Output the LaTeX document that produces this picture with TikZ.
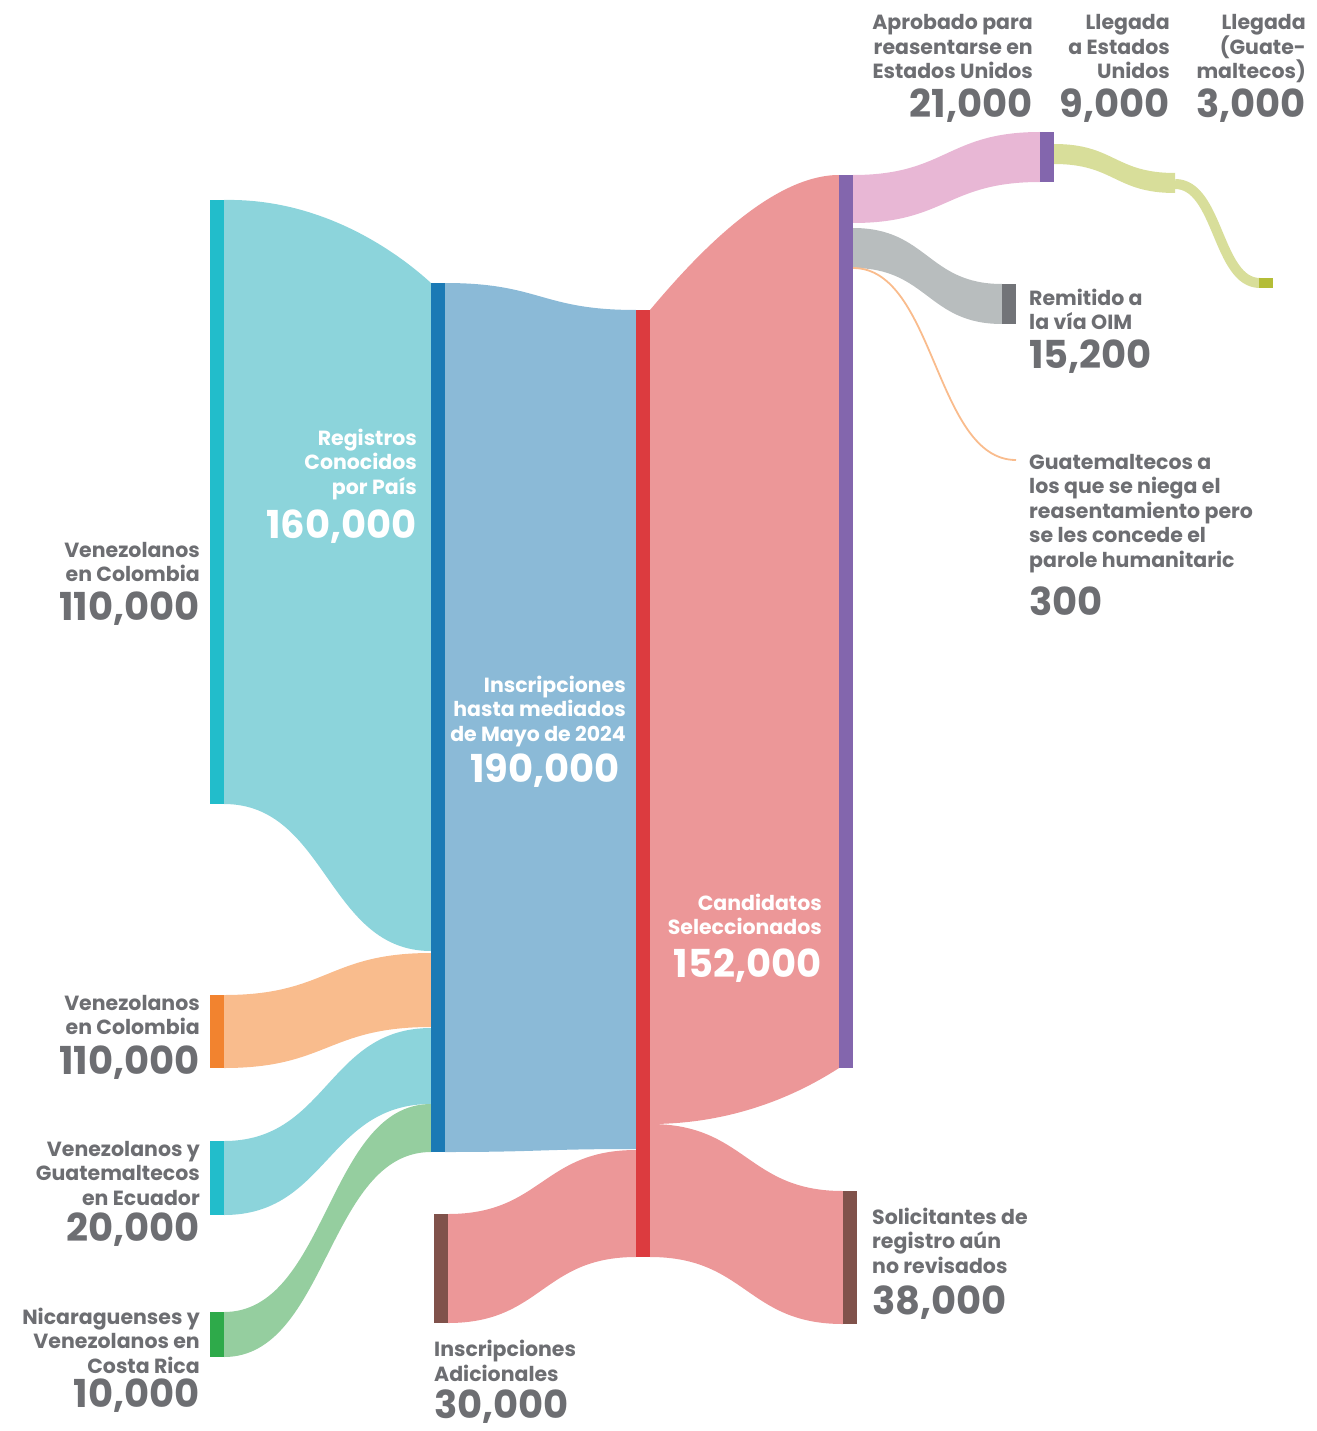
\documentclass[tikz,border=0pt]{standalone}
\usepackage{fontspec}
\setmainfont{Poppins}
\usetikzlibrary{positioning}

\definecolor{txtgray}{HTML}{6D6E72}
\definecolor{tealbar}{HTML}{22BDCB}
\definecolor{tealflow}{HTML}{8CD4DB}
\definecolor{bluebar}{HTML}{1B7AB5}
\definecolor{blueflow}{HTML}{8BBAD7}
\definecolor{redbar}{HTML}{DC3B3F}
\definecolor{redflow}{HTML}{EC9798}
\definecolor{purplebar}{HTML}{8366AD}
\definecolor{orangebar}{HTML}{F2832F}
\definecolor{orangeflow}{HTML}{F9BC8D}
\definecolor{greenbar}{HTML}{2EAA4A}
\definecolor{greenflow}{HTML}{95CE9F}
\definecolor{brownbar}{HTML}{80524B}
\definecolor{pinkflow}{HTML}{E8B7D5}
\definecolor{graybar}{HTML}{727478}
\definecolor{grayflow}{HTML}{B8BDBE}
\definecolor{olivebar}{HTML}{B4BD37}
\definecolor{oliveflow}{HTML}{D8DE9A}

% band between two bars: x1, top1, bot1, x2, top2, bot2, colour
\newcommand{\band}[7]{%
  \fill[#7] (#1,#2) .. controls ({(#1+#4)/2},#2) and ({(#1+#4)/2},#5) .. (#4,#5)
    -- (#4,#6) .. controls ({(#1+#4)/2},#6) and ({(#1+#4)/2},#3) .. (#1,#3) -- cycle;}

\begin{document}
\begin{tikzpicture}[x=1pt,y=-1pt,
    bar/.style={rectangle,inner sep=0pt,minimum width=14pt},
    lab/.style={inner sep=0pt,text=txtgray,font=\fontsize{20.5}{24.5}\selectfont\bfseries},
    num/.style={inner sep=0pt,text=txtgray,font=\fontsize{38.5}{40}\selectfont\bfseries},
    wlab/.style={lab,text=white},
    wnum/.style={num,text=white}]

  \useasboundingbox (0,0) rectangle (1316,1431);

  % flows
  \fill[tealflow] (224,200) .. controls (320,198) and (395,250) .. (431,283)
    -- (431,951) .. controls (327,951) and (327,804) .. (224,804) -- cycle;
  \band{224}{995}{1068}{431}{953}{1027}{orangeflow}
  \band{224}{1141}{1215}{431}{1028}{1104}{tealflow}
  \band{224}{1312}{1357}{431}{1104}{1152}{greenflow}
  \band{445}{283}{1152}{636}{310}{1149}{blueflow}
  \band{448}{1214}{1323}{636}{1150}{1257}{redflow}
  \fill[redflow] (650,310) .. controls (687,266) and (767,175) .. (839,175)
    -- (839,1068) .. controls (805,1090) and (740,1124) .. (650,1124) -- cycle;
  \band{650}{1124}{1257}{843}{1191}{1324}{redflow}
  \band{853}{175}{223}{1040}{132}{182}{pinkflow}
  \band{853}{228}{268}{1002}{284}{324}{grayflow}
  \band{1054}{144}{164}{1175}{173}{193}{oliveflow}
  \draw[oliveflow,line width=10pt] (1175,184) .. controls (1219,184) and (1217,283) .. (1260,283);
  \draw[orangeflow,line width=1.8pt] (853,268) .. controls (935,268) and (935,460) .. (1016,460);

  % bars
  \node[bar,fill=tealbar,minimum height=604] (ven_col) at (217,502) {};
  \node[bar,fill=orangebar,minimum height=73] (ven_col2) at (217,1031.5) {};
  \node[bar,fill=tealbar,minimum height=74] (ecu) at (217,1178) {};
  \node[bar,fill=greenbar,minimum height=45] (cri) at (217,1334.5) {};
  \node[bar,fill=bluebar,minimum height=869] (reg) at (438,717.5) {};
  \node[bar,fill=brownbar,minimum height=109] (adic) at (441,1268.5) {};
  \node[bar,fill=redbar,minimum height=947] (insc) at (643,783.5) {};
  \node[bar,fill=purplebar,minimum height=893] (cand) at (846,621.5) {};
  \node[bar,fill=brownbar,minimum height=133] (solic) at (850,1257.5) {};
  \node[bar,fill=purplebar,minimum height=50] (aprob) at (1047,157) {};
  \node[bar,fill=graybar,minimum height=40] (remit) at (1009,304) {};
  \node[bar,fill=olivebar,minimum height=10] (guat) at (1266,283) {};

  % labels (base = last line)
  \node[lab,align=right,anchor=base east] (ven_col_l) at (200,581.5) {Venezolanos\\en Colombia};
  \node[num,anchor=base east] (ven_col_n) at (200,620) {110,000};
  \node[lab,align=right,anchor=base east] (ven_col2_l) at (200,1034.5) {Venezolanos\\en Colombia};
  \node[num,anchor=base east] (ven_col2_n) at (200,1074) {110,000};
  \node[lab,align=right,anchor=base east] (ecu_l) at (200,1205) {Venezolanos y\\Guatemaltecos\\en Ecuador};
  \node[num,anchor=base east] (ecu_n) at (200,1241) {20,000};
  \node[lab,align=right,anchor=base east] (cri_l) at (200,1373) {Nicaraguenses y\\Venezolanos en\\Costa Rica};
  \node[num,anchor=base east] (cri_n) at (200,1407) {10,000};

  \node[wlab,align=right,anchor=base east] (reg_l) at (417,494) {Registros\\Conocidos\\por País};
  \node[wnum,anchor=base east] (reg_n) at (417,538) {160,000};
  \node[wlab,align=right,anchor=base east] (insc_l) at (626,741) {Inscripciones\\hasta mediados\\de Mayo de 2024};
  \node[wnum,anchor=base east] (insc_n) at (620,782) {190,000};
  \node[wlab,align=right,anchor=base east] (cand_l) at (822,934.5) {Candidatos\\Seleccionados};
  \node[wnum,anchor=base east] (cand_n) at (822,977) {152,000};

  \node[lab,align=left,anchor=base west] (adic_l) at (434,1381) {Inscripciones\\Adicionales};
  \node[num,anchor=base west] (adic_n) at (434,1418) {30,000};
  \node[lab,align=left,anchor=base west] (solic_l) at (872,1273) {Solicitantes de\\registro aún\\no revisados};
  \node[num,anchor=base west] (solic_n) at (872,1314) {38,000};
  \node[lab,align=left,anchor=base west] (remit_l) at (1029,329.5) {Remitido a\\la vía OIM};
  \node[num,anchor=base west] (remit_n) at (1029,368) {15,200};
  \node[lab,align=left,anchor=base west] (parole_l) at (1029,567) {Guatemaltecos a\\los que se niega el\\reasentamiento pero\\se les concede el\\parole humanitaric};
  \node[num,anchor=base west] (parole_n) at (1029,615) {300};

  \node[lab,align=right,anchor=base east] (aprob_l) at (1033,79) {Aprobado para\\reasentarse en\\Estados Unidos};
  \node[num,anchor=base east] (aprob_n) at (1033,118) {21,000};
  \node[lab,align=right,anchor=base east] (lleg_l) at (1170,79) {Llegada\\a Estados\\Unidos};
  \node[num,anchor=base east] (lleg_n) at (1170,118) {9,000};
  \node[lab,align=right,anchor=base east] (guat_l) at (1306,79) {Llegada\\(Guate-\\maltecos)};
  \node[num,anchor=base east] (guat_n) at (1306,118) {3,000};

\end{tikzpicture}
\end{document}
